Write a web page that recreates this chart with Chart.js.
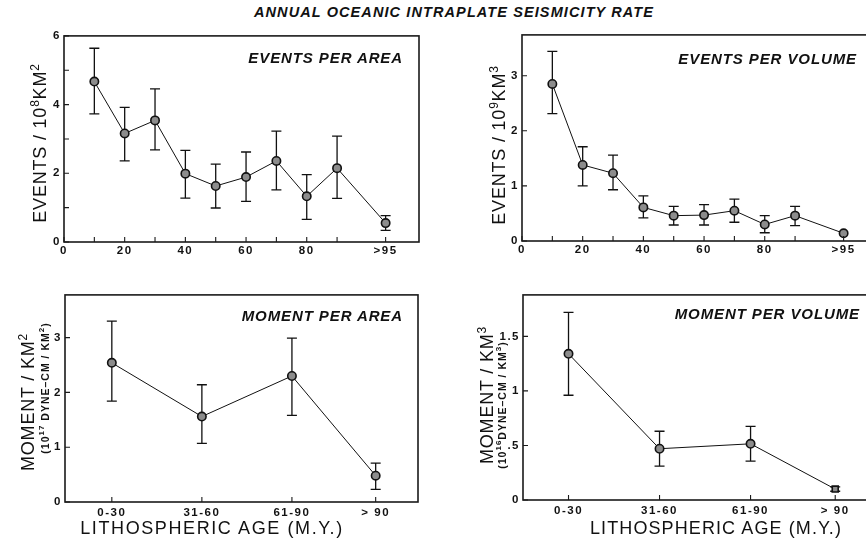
<!DOCTYPE html>
<html>
<head>
<meta charset="utf-8">
<script src="https://cdn.jsdelivr.net/npm/chart.js@4.4.1/dist/chart.umd.min.js"></script>
<style>
  html, body { margin:0; padding:0; background:#fff; }
  body { width:866px; height:540px; overflow:hidden; position:relative; font-family:"Liberation Sans", Arial, sans-serif; color:#111; }
  canvas { position:absolute; }
  .txt { position:absolute; white-space:nowrap; z-index:5; color:#111; }
  .rot { transform:translate(-50%,-50%) rotate(-90deg); transform-origin:center center; }
  .hc { transform:translate(-50%,-50%); }
  .lab { font-weight:bold; font-style:italic; font-size:15px; letter-spacing:0.9px; transform:translateY(-50%); }
  .ytit { font-size:18px; letter-spacing:0.8px; line-height:1; }
  .ytit sup { font-size:12px; vertical-align:7px; line-height:0; }
  .ysub { font-size:10.5px; font-weight:bold; letter-spacing:1px; line-height:1; }
  .ysub sup { font-size:8px; vertical-align:5px; line-height:0; }
  .xtit { font-size:18px; letter-spacing:1.6px; }
</style>
</head>
<body>
<div class="txt hc" style="left:454px; top:12px; font-weight:bold; font-style:italic; font-size:14.5px; letter-spacing:1.1px;">ANNUAL OCEANIC INTRAPLATE SEISMICITY RATE</div>

<div class="txt lab" style="right:463px; top:57px;">EVENTS PER AREA</div>
<div class="txt lab" style="right:9px; top:58px;">EVENTS PER VOLUME</div>
<div class="txt lab" style="right:463px; top:315px;">MOMENT PER AREA</div>
<div class="txt lab" style="right:6px; top:313px;">MOMENT PER VOLUME</div>

<div class="txt rot ytit" style="left:40px; top:143px;">EVENTS / 10<sup>8</sup>KM<sup>2</sup></div>
<div class="txt rot ytit" style="left:499px; top:145px;">EVENTS / 10<sup>9</sup>KM<sup>3</sup></div>
<div class="txt rot ytit" style="left:28px; top:402px;">MOMENT / KM<sup>2</sup></div>
<div class="txt rot ysub" style="left:45px; top:388px;">(10<sup>17</sup> DYNE–CM / KM<sup>2</sup>)</div>
<div class="txt rot ytit" style="left:487px; top:395px;">MOMENT / KM<sup>3</sup></div>
<div class="txt rot ysub" style="left:502px; top:405px;">(10<sup>16</sup>DYNE–CM / KM<sup>3</sup>)</div>

<div class="txt hc xtit" style="left:212px; top:528px;">LITHOSPHERIC AGE (M.Y.)</div>
<div class="txt hc xtit" style="left:716px; top:528px; letter-spacing:1.1px;">LITHOSPHERIC AGE (M.Y.)</div>

<canvas id="c1"></canvas>
<canvas id="c2"></canvas>
<canvas id="c3"></canvas>
<canvas id="c4"></canvas>

<script>
// ---------------- DATA ----------------
const ageX        = [10, 20, 30, 40, 50, 60, 70, 80, 90, 106];
const ageTickVals = [0, 10, 20, 30, 40, 50, 60, 70, 80, 90, 106];
const ageTickText = ['0', '', '20', '', '40', '', '60', '', '80', '', '>95'];

const eventsPerArea   = [4.67, 3.16, 3.54, 1.99, 1.63, 1.89, 2.36, 1.33, 2.15, 0.55];
const eventsPerAreaLo = [3.73, 2.36, 2.68, 1.28, 0.99, 1.18, 1.52, 0.66, 1.27, 0.34];
const eventsPerAreaHi = [5.64, 3.92, 4.46, 2.67, 2.27, 2.62, 3.23, 1.96, 3.08, 0.77];

const eventsPerVol   = [2.85, 1.38, 1.23, 0.61, 0.46, 0.47, 0.55, 0.30, 0.46, 0.14];
const eventsPerVolLo = [2.31, 1.00, 0.93, 0.42, 0.29, 0.29, 0.34, 0.15, 0.28, 0.14];
const eventsPerVolHi = [3.44, 1.71, 1.56, 0.82, 0.63, 0.66, 0.76, 0.46, 0.63, 0.14];

const groupX      = [1, 2, 3, 3.93];
const groupLabels = ['0-30', '31-60', '61-90', '> 90'];

const momentPerArea   = [2.54, 1.56, 2.30, 0.48];
const momentPerAreaLo = [1.84, 1.07, 1.58, 0.23];
const momentPerAreaHi = [3.30, 2.14, 2.99, 0.71];

const momentPerVol   = [1.34, 0.47, 0.515, 0.10];
const momentPerVolLo = [0.96, 0.31, 0.357, 0.08];
const momentPerVolHi = [1.72, 0.63, 0.675, 0.12];

const y1Ticks = [0, 1, 2, 3, 4, 5, 6];        const y1Text = ['0', '', '2', '', '4', '', '6'];
const y2Ticks = [0, 1, 2, 3];                  const y2Text = ['0', '1', '2', '3'];
const y3Ticks = [0, 1, 2, 3];                  const y3Text = ['0', '1', '2', '3'];
const y4Ticks = [0, 0.5, 1, 1.5];              const y4Text = ['0', '.5', '1', '1.5'];

// ---------------- PLUGIN ----------------
const framePlugin = {
  id: 'frame',
  beforeDraw(chart) {
    try { chart.ctx.letterSpacing = '1.5px'; } catch (e) {}
  },
  beforeDatasetsDraw(chart) {
    const ctx = chart.ctx, xs = chart.scales.x, ys = chart.scales.y;
    chart.data.datasets.forEach(ds => {
      if (!ds.errLo) return;
      ctx.save();
      ctx.strokeStyle = '#111';
      ctx.lineWidth = 1.3;
      ds.data.forEach((p, j) => {
        const x = xs.getPixelForValue(p.x);
        const yl = ys.getPixelForValue(ds.errLo[j]);
        const yh = ys.getPixelForValue(ds.errHi[j]);
        if (Math.abs(yl - yh) < 2) return;
        ctx.beginPath();
        ctx.moveTo(x, yl); ctx.lineTo(x, yh);
        ctx.moveTo(x - 5, yl); ctx.lineTo(x + 5, yl);
        ctx.moveTo(x - 5, yh); ctx.lineTo(x + 5, yh);
        ctx.stroke();
      });
      ctx.restore();
    });
  },
  afterDraw(chart) {
    const ctx = chart.ctx, a = chart.chartArea;
    ctx.save();
    ctx.strokeStyle = '#1a1a1a';
    ctx.lineWidth = 1.6;
    ctx.strokeRect(a.left, a.top, a.right - a.left, a.bottom - a.top);
    ctx.lineWidth = 1.1;
    ctx.beginPath();
    chart.scales.x.ticks.forEach(t => {
      const x = chart.scales.x.getPixelForValue(t.value);
      ctx.moveTo(x, a.bottom); ctx.lineTo(x, a.bottom - 5);
    });
    chart.scales.y.ticks.forEach(t => {
      const y = chart.scales.y.getPixelForValue(t.value);
      ctx.moveTo(a.left, y); ctx.lineTo(a.left + 5, y);
    });
    ctx.stroke();
    ctx.restore();
  }
};

const FONT = { family: '"Liberation Sans", Arial, sans-serif', size: 11.5, weight: 'bold' };
const YW = 50, XH = 26, PT = 8, PR = 6;

function makePanel(id, area, opts) {
  const cv = document.getElementById(id);
  const w = Math.round(area.R - area.L + YW + PR);
  const h = Math.round(area.B - area.T + PT + XH);
  cv.width = w; cv.height = h;
  cv.style.left = (area.L - YW) + 'px';
  cv.style.top = (area.T - PT) + 'px';
  cv.style.width = w + 'px'; cv.style.height = h + 'px';
  const lbl = (vals, txt) => (v) => { const i = vals.findIndex(q => Math.abs(q - v) < 1e-6); return i >= 0 ? txt[i] : ''; };
  new Chart(cv, {
    type: 'line',
    data: {
      datasets: [{
        data: opts.xs.map((x, i) => ({ x: x, y: opts.ys[i] })),
        errLo: opts.lo, errHi: opts.hi,
        borderColor: '#111', borderWidth: 1, tension: 0, fill: false,
        pointRadius: 4.2, pointBorderWidth: 1.6,
        pointBackgroundColor: '#8c8c8c', pointBorderColor: '#111',
        pointStyle: opts.pointStyle || 'circle'
      }]
    },
    options: {
      responsive: false, animation: false, devicePixelRatio: 1,
      layout: { padding: { top: PT, right: PR, left: 0, bottom: 0 } },
      plugins: { legend: { display: false }, tooltip: { enabled: false } },
      scales: {
        x: {
          type: 'linear', min: opts.xmin, max: opts.xmax,
          grid: { display: false, drawTicks: false, tickLength: 0 }, border: { display: false },
          afterBuildTicks: s => { s.ticks = opts.xTicks.map(v => ({ value: v })); },
          afterFit: s => { s.height = XH; },
          ticks: { autoSkip: false, maxRotation: 0, padding: opts.xpad, color: '#111', font: FONT,
                   callback: lbl(opts.xTicks, opts.xText) }
        },
        y: {
          type: 'linear', min: 0, max: opts.ymax,
          grid: { display: false, drawTicks: false, tickLength: 0 }, border: { display: false },
          afterBuildTicks: s => { s.ticks = opts.yTicks.map(v => ({ value: v })); },
          afterFit: s => { s.width = YW; },
          ticks: { autoSkip: false, padding: 3, color: '#111', font: FONT,
                   callback: lbl(opts.yTicks, opts.yText) }
        }
      }
    },
    plugins: [framePlugin]
  });
}

makePanel('c1', { L: 64, T: 34, R: 418.5, B: 242 }, {
  xs: ageX, ys: eventsPerArea, lo: eventsPerAreaLo, hi: eventsPerAreaHi,
  xmin: 0, xmax: 117, xTicks: ageTickVals, xText: ageTickText, xpad: 2,
  ymax: 6, yTicks: y1Ticks, yText: y1Text
});
makePanel('c2', { L: 522, T: 33, R: 877, B: 241 }, {
  xs: ageX, ys: eventsPerVol, lo: eventsPerVolLo, hi: eventsPerVolHi,
  xmin: 0, xmax: 117, xTicks: ageTickVals, xText: ageTickText, xpad: 2,
  ymax: 3.74, yTicks: y2Ticks, yText: y2Text
});
makePanel('c3', { L: 65, T: 293, R: 418, B: 502 }, {
  xs: groupX, ys: momentPerArea, lo: momentPerAreaLo, hi: momentPerAreaHi,
  xmin: 0.48, xmax: 4.4, xTicks: groupX, xText: groupLabels, xpad: 4,
  ymax: 3.78, yTicks: y3Ticks, yText: y3Text
});
makePanel('c4', { L: 523, T: 293, R: 878, B: 500 }, {
  xs: groupX, ys: momentPerVol, lo: momentPerVolLo, hi: momentPerVolHi,
  xmin: 0.5, xmax: 4.4, xTicks: groupX, xText: groupLabels, xpad: 4,
  ymax: 1.88, yTicks: y4Ticks, yText: y4Text,
  pointStyle: ['circle', 'circle', 'circle', 'rect']
});
</script>
</body>
</html>
